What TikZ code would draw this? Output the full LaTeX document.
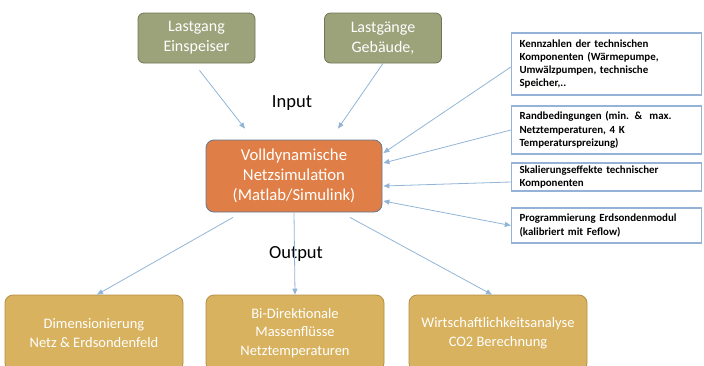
\documentclass[tikz,border=0pt]{standalone}
\usepackage{fontspec}
\setmainfont{Carlito}
\usetikzlibrary{positioning,arrows.meta}
\definecolor{oliv}{RGB}{156,163,122}
\definecolor{olivrand}{RGB}{112,118,86}
\definecolor{simorange}{RGB}{223,127,71}
\definecolor{simrand}{RGB}{96,120,148}
\definecolor{goldgelb}{RGB}{216,178,94}
\definecolor{goldrand}{RGB}{178,143,68}
\definecolor{pfeilblau}{RGB}{146,180,214}
\definecolor{kastenblau}{RGB}{149,179,215}

\begin{document}
\begin{tikzpicture}
        [
            x=1pt, y=-1pt,
            olivnode/.style={rectangle, rounded corners=6pt, draw=olivrand, fill=oliv, text=white, line width=0.8pt, minimum width=117pt, minimum height=50pt, align=center, font=\fontsize{16}{20}\selectfont},
            simnode/.style={rectangle, rounded corners=8pt, draw=simrand, fill=simorange, text=white, line width=0.8pt, minimum width=176pt, minimum height=72pt, align=center, font=\fontsize{16.7}{20}\selectfont},
            goldnode/.style={rectangle, rounded corners=8pt, draw=goldrand, fill=goldgelb, text=white, line width=0.8pt, minimum width=178pt, minimum height=76pt, align=center, font=\fontsize{14.5}{18.5}\selectfont},
            textnode/.style={rectangle, draw=kastenblau, fill=white, line width=1.4pt, text width=174pt, inner xsep=8pt, inner ysep=2pt, align=left, font=\bfseries\fontsize{10.9}{13.2}\selectfont},
            labelnode/.style={font=\fontsize{18.5}{20}\selectfont},
            pfeil/.style={draw=pfeilblau, line width=0.8pt, -{Triangle[length=6pt,width=5pt]}},
        ]
        \useasboundingbox (0,0) rectangle (704,365);

        %Knoten
        \node[olivnode]     (einspeiser)    at (196.5,38)   {Lastgang\\Einspeiser};
        \node[olivnode]     (gebaeude)      at (383,38)     {Lastgänge\\Gebäude,};
        \node[simnode]      (sim)           at (294,176)    {Volldynamische\\Netzsimulation\\(Matlab/Simulink)};

        \node[textnode, minimum height=62pt] (kennzahlen)  at (606.5,64)  {Kennzahlen der technischen\\Komponenten (Wärmepumpe,\\Umwälzpumpen, technische\\Speicher,..};
        \node[textnode, minimum height=48pt] (rand)        at (606.5,130) {Randbedingungen (min. \&\ \ max.\\Netztemperaturen, 4 K\\Temperaturspreizung)};
        \node[textnode, minimum height=28pt] (skalierung)  at (606.5,177) {Skalierungseffekte technischer\\Komponenten};
        \node[textnode, minimum height=35pt] (erdsonde)    at (606.5,225.5) {Programmierung Erdsondenmodul\\(kalibriert mit Feflow)};

        \node[goldnode]     (dimension)     at (94,333)     {Dimensionierung\\Netz \& Erdsondenfeld};
        \node[goldnode]     (massen)        at (295,333)    {Bi-Direktionale\\Massenflüsse\\Netztemperaturen};
        \node[goldnode]     (wirtschaft)    at (498,333)    {Wirtschaftlichkeitsanalyse\\CO2 Berechnung};

        \node[labelnode]    (input)         at (292,103)    {Input};
        \node[labelnode]    (output)        at (296,254)    {Output};

        %Linien
        \draw[pfeil] ([xshift=3pt,yshift=-7pt]einspeiser.south) -- ([xshift=-49pt,yshift=11pt]sim.north);
        \draw[pfeil] (gebaeude.south) -- ([xshift=44pt,yshift=11pt]sim.north);
        \draw[pfeil] ([yshift=-3pt]kennzahlen.west) -- ([xshift=1pt,yshift=23pt]sim.east);
        \draw[pfeil] (rand.west) -- ([xshift=1pt,yshift=13pt]sim.east);
        \draw[pfeil] ([yshift=-5pt]skalierung.west) -- ([xshift=1pt,yshift=-10pt]sim.east);
        \draw[pfeil, {Triangle[length=6pt,width=5pt]}-{Triangle[length=6pt,width=5pt]}] ([xshift=1pt,yshift=-25pt]sim.east) -- (erdsonde.west);
        \draw[pfeil] ([xshift=-61pt,yshift=-5pt]sim.south) -- ([xshift=3pt]dimension.north);
        \draw[pfeil] (sim.south) -- (massen.north);
        \draw[pfeil] ([xshift=56pt,yshift=-5pt]sim.south) -- ([xshift=-6pt]wirtschaft.north);
    \end{tikzpicture}
\end{document}
